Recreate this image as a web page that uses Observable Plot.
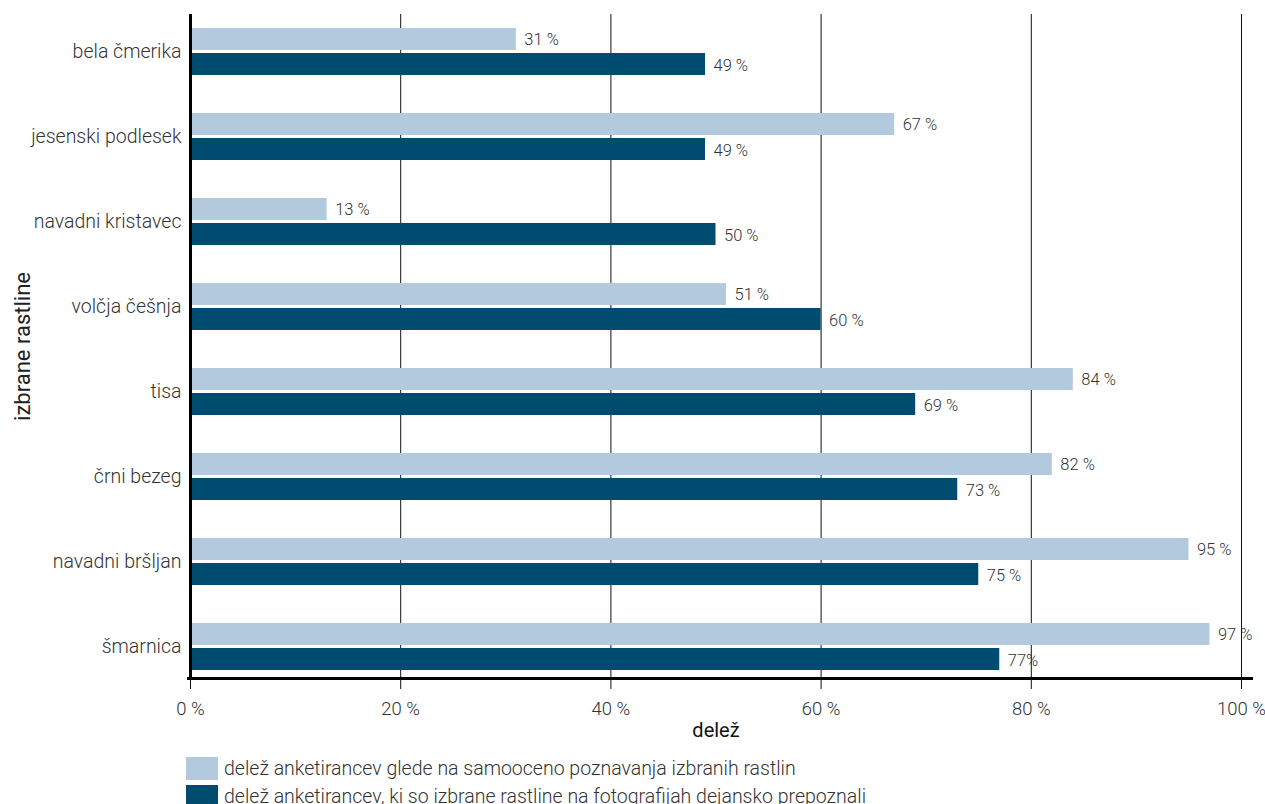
<!DOCTYPE html>
<html>
<head>
<meta charset="utf-8">
<script src="https://cdn.jsdelivr.net/npm/d3@7"></script>
<script src="https://cdn.jsdelivr.net/npm/@observablehq/plot@0.6"></script>
<style>
  body { margin: 0; background: #fff; font-family: Roboto, sans-serif; font-weight: 300; color: #333; }
  #chart { position: absolute; left: 0; top: 0; }
  #legend { position: absolute; left: 186px; top: 754px; font-size: 19.5px; }
  .item { display: flex; align-items: center; height: 28px; }
  .sw { width: 32px; height: 23px; margin-right: 6px; flex: none; }
</style>
</head>
<body>
<div id="chart"></div>
<div id="legend"></div>
<script>
const categories = ["bela čmerika", "jesenski podlesek", "navadni kristavec", "volčja češnja", "tisa", "črni bezeg", "navadni bršljan", "šmarnica"];
const selfAssessed = [31, 67, 13, 51, 84, 82, 95, 97];
const recognised = [49, 49, 50, 60, 69, 73, 75, 77];
const selfAssessedLabels = ["31 %", "67 %", "13 %", "51 %", "84 %", "82 %", "95 %", "97 %"];
const recognisedLabels = ["49 %", "49 %", "50 %", "60 %", "69 %", "73 %", "75 %", "77%"];
const xTicks = [0, 20, 40, 60, 80, 100];
const seriesNames = ["delež anketirancev glede na samooceno poznavanja izbranih rastlin", "delež anketirancev, ki so izbrane rastline na fotografijah dejansko prepoznali"];
const seriesColors = ["#b3c9dd", "#004b70"];

const rowsA = categories.map((c, i) => ({cat: c, value: selfAssessed[i], label: selfAssessedLabels[i]}));
const rowsB = categories.map((c, i) => ({cat: c, value: recognised[i], label: recognisedLabels[i]}));

const font = 'Roboto, sans-serif';

const chart = Plot.plot({
  width: 1265,
  height: 745,
  marginLeft: 190,
  marginRight: 24,
  marginTop: 14,
  marginBottom: 67,
  style: {fontFamily: font, fontSize: "18px", fontWeight: 300, color: "#333", background: "#fff"},
  x: {domain: [0, 100]},
  y: {domain: categories, range: [25, 673], paddingInner: 0.45, paddingOuter: 0},
  marks: [
    Plot.gridX(xTicks, {stroke: "#111", strokeOpacity: 1, strokeWidth: 1}),
    Plot.barX(rowsA, {x: "value", y: "cat", fill: seriesColors[0], insetBottom: 25}),
    Plot.barX(rowsB, {x: "value", y: "cat", fill: seriesColors[1], insetTop: 25}),
    Plot.text(rowsA, {x: "value", y: "cat", text: "label", dx: 8, dy: -12, textAnchor: "start", fontSize: 16.5, fill: "#333"}),
    Plot.text(rowsB, {x: "value", y: "cat", text: "label", dx: 8, dy: 14, textAnchor: "start", fontSize: 16.5, fill: "#333"}),
    Plot.ruleX([0], {stroke: "#000", strokeWidth: 3}),
    Plot.frame({anchor: "bottom", stroke: "#000", strokeWidth: 3, insetRight: -10, insetLeft: -2}),
    Plot.axisX(xTicks, {tickSize: 11, tickPadding: 12, stroke: "#111", fill: "#333", tickFormat: d => d + " %", fontSize: 18.5, label: null}),
    Plot.axisX({label: "delež", labelAnchor: "center", labelOffset: 58, labelArrow: "none", ticks: [], tickSize: 0, fontSize: 20, fontWeight: 400, fill: "#111"}),
    Plot.axisY({tickSize: 0, tickPadding: 9, fontSize: 19.5, fill: "#333", label: null}),
    Plot.axisY({label: "izbrane rastline", labelAnchor: "center", labelOffset: 176, labelArrow: "none", ticks: [], tickSize: 0, fontSize: 22, fontWeight: 400, fill: "#222"})
  ]
});
document.getElementById("chart").appendChild(chart);

const legend = d3.select("#legend");
seriesNames.forEach((name, i) => {
  const it = legend.append("div").attr("class", "item");
  it.append("div").attr("class", "sw").style("background", seriesColors[i]);
  it.append("span").text(name);
});
</script>
</body>
</html>
